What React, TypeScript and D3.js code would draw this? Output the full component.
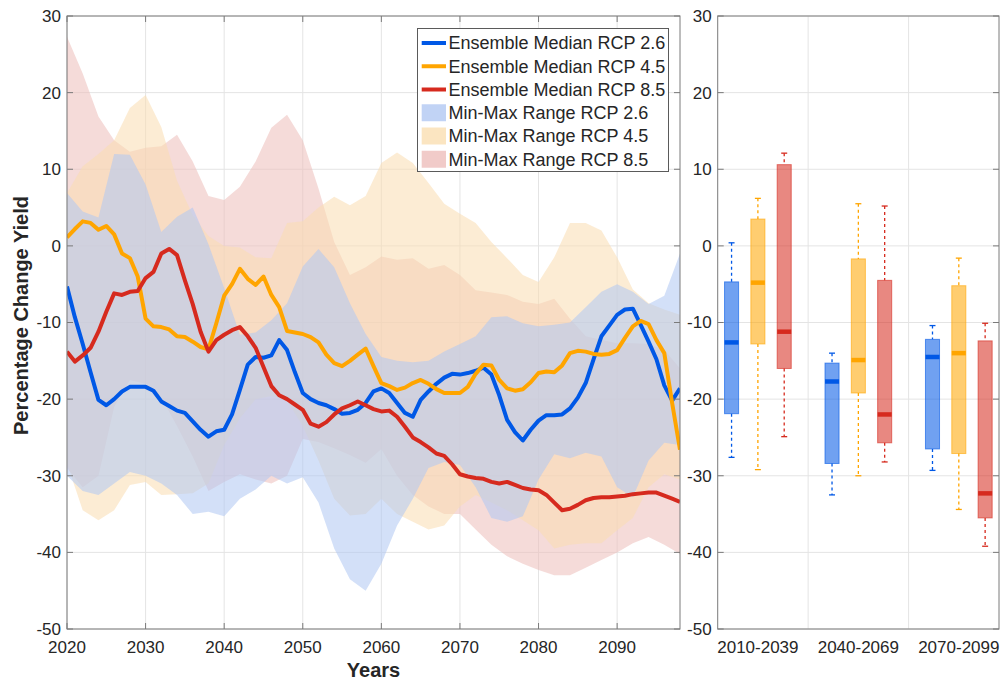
import React from "react";
import * as d3 from "d3";

// ---------- DATA ----------
const years = d3.range(2020, 2099); // 2020..2098
const envYears = d3.range(2020, 2099, 2); // 2020..2098 step 2

const medianRcp26 = [
  -5.3, -9.3, -12.8, -16.5, -20.1, -20.8, -20.0, -19.0, -18.4, -18.4,
  -18.4, -18.9, -20.3, -20.9, -21.5, -21.8, -22.9, -24.0, -24.9, -24.2,
  -24.0, -22.0, -18.8, -15.5, -14.5, -14.6, -14.3, -12.3, -13.6, -16.5,
  -19.2, -20.0, -20.5, -20.8, -21.3, -21.9, -21.8, -21.4, -20.5, -19.0,
  -18.6, -19.2, -20.5, -21.8, -22.3, -20.1, -19.0, -18.0, -17.2, -16.7,
  -16.8, -16.6, -16.3, -15.9, -16.8, -19.5, -22.7, -24.3, -25.4, -24.0,
  -22.8, -22.1, -22.1, -22.0, -21.2, -19.8, -17.9, -14.8, -11.8, -10.4,
  -9.0, -8.3, -8.2, -10.3, -12.5, -14.8, -18.2, -20.2, -18.6,
];
const medianRcp45 = [
  1.1, 2.2, 3.2, 3.0, 2.1, 2.6, 1.5, -1.0, -1.6, -4.0,
  -9.5, -10.5, -10.6, -10.9, -11.8, -11.9, -12.5, -13.2, -13.5, -10.1,
  -6.5, -5.0, -3.0, -4.3, -5.1, -4.0, -6.4, -8.0, -11.1, -11.3,
  -11.5, -11.9, -12.6, -14.2, -15.3, -15.7, -15.0, -14.2, -13.4, -15.7,
  -17.9, -18.3, -18.8, -18.5, -17.9, -17.5, -18.0, -18.7, -19.2, -19.2,
  -19.2, -18.4, -16.7, -15.5, -15.6, -17.5, -18.6, -18.9, -18.7, -17.8,
  -16.6, -16.4, -16.5, -15.6, -14.0, -13.7, -13.8, -14.1, -14.2, -14.1,
  -13.6, -12.0, -10.5, -9.8, -10.2, -12.3, -14.0, -20.5, -26.6,
];
const medianRcp85 = [
  -13.8, -15.1, -14.3, -13.3, -11.2, -8.6, -6.2, -6.4, -6.0, -5.9,
  -4.2, -3.4, -1.0, -0.4, -1.2, -4.5, -7.6, -11.2, -13.8, -12.3,
  -11.6, -11.0, -10.6, -11.8, -13.3, -15.8, -18.3, -19.5, -20.0, -20.7,
  -21.4, -23.2, -23.6, -23.0, -22.0, -21.2, -20.8, -20.3, -20.8, -21.3,
  -21.6, -21.5, -22.3, -23.6, -25.0, -25.6, -26.3, -27.1, -27.4, -28.5,
  -29.8, -30.1, -30.3, -30.4, -30.8, -31.0, -30.8, -31.2, -31.6, -31.8,
  -31.9, -32.5, -33.5, -34.5, -34.3, -33.8, -33.2, -32.9, -32.8, -32.8,
  -32.7, -32.6, -32.4, -32.3, -32.2, -32.2, -32.6, -33.0, -33.4,
];

const maxRcp26 = [
  6.9, 4.5, 3.7, 12.0, 11.9, 8.0, 1.8, 3.8, 5.0, 0.2,
  -5.5, -11.6, -11.3, -9.7, -7.5, -2.7, -0.4, -2.8, -7.5, -11.5,
  -14.5, -15.0, -15.2, -15.0, -13.8, -12.8, -11.8, -9.3, -9.2, -10.1,
  -10.5, -10.3, -10.0, -8.0, -6.0, -5.0, -6.0, -7.6, -6.5, -1.0,
];
const minRcp26 = [
  -30.0, -32.0, -32.5, -31.0, -29.5, -30.0, -31.0, -32.5, -35.0, -34.7,
  -35.3, -33.0, -31.8, -30.0, -31.0, -30.2, -33.5, -39.5, -43.5, -45.0,
  -41.5, -36.5, -33.0, -29.0, -28.2, -28.6, -31.5, -35.5, -36.0, -35.3,
  -30.5, -27.2, -27.7, -27.0, -27.5, -31.5, -32.8, -28.0, -25.7, -26.0,
];
const maxRcp45 = [
  6.9, 10.4, 12.0, 13.8, 18.0, 19.7, 15.5, 8.5, 4.0, 1.3,
  0.0, -0.2, -1.5, -1.6, 3.0, 3.2, 5.0, 6.4, 5.3, 6.5,
  10.8, 12.2, 10.8, 8.2, 5.5, 4.2, 3.0, 0.5, -1.6, -3.8,
  -4.7, -1.5, 3.0, 3.0, 2.0, -1.5, -5.7, -7.5, -8.3, -9.0,
];
const minRcp45 = [
  -28.4, -34.5, -35.8, -34.5, -31.2, -30.8, -32.5, -32.4, -32.3, -31.0,
  -26.0, -22.5, -20.0, -19.6, -20.2, -23.5, -28.0, -33.0, -35.2, -35.0,
  -33.0, -35.0, -36.0, -37.0, -36.5, -34.0, -32.5, -33.5, -34.5, -35.8,
  -37.1, -39.5, -39.0, -38.8, -38.8, -37.1, -35.5, -31.5, -29.8, -30.5,
];
const maxRcp85 = [
  27.3, 22.5, 16.9, 13.8, 12.3, 12.8, 13.0, 14.5, 11.0, 6.5,
  6.0, 7.7, 11.0, 15.4, 17.1, 13.8, 7.5, 0.5, -3.8, -2.8,
  -1.4, -1.8, -1.6, -3.0, -2.5, -3.8, -5.8, -6.1, -6.4, -7.3,
  -7.6, -6.9, -9.5, -11.8, -12.3, -12.7, -12.7, -12.8, -13.6, -16.0,
];
const minRcp85 = [
  -29.0, -31.5, -30.0, -21.0, -17.5, -18.0, -19.8, -23.5, -27.5, -32.0,
  -30.8, -29.8, -30.5, -31.0, -30.0, -25.2, -25.6, -26.4, -27.3, -28.3,
  -26.5, -30.0, -32.5, -34.0, -35.0, -35.0, -37.0, -39.0, -40.5, -41.5,
  -42.3, -43.0, -43.0, -42.0, -41.0, -40.0, -38.8, -38.0, -39.0, -40.2,
];

// Box plot data (per period)
const periods = ["2010-2039", "2040-2069", "2070-2099"];
const boxLow26 = [-27.6, -32.5, -29.3];
const boxQ1_26 = [-21.9, -28.4, -26.5];
const boxMed26 = [-12.6, -17.7, -14.5];
const boxQ3_26 = [-4.7, -15.3, -12.2];
const boxHigh26 = [0.4, -14.0, -10.4];

const boxLow45 = [-29.2, -30.0, -34.4];
const boxQ1_45 = [-12.8, -19.2, -27.1];
const boxMed45 = [-4.8, -14.9, -14.0];
const boxQ3_45 = [3.5, -1.7, -5.2];
const boxHigh45 = [6.2, 5.5, -1.6];

const boxLow85 = [-24.9, -28.2, -39.2];
const boxQ1_85 = [-16.0, -25.7, -35.5];
const boxMed85 = [-11.2, -22.0, -32.3];
const boxQ3_85 = [10.6, -4.5, -12.4];
const boxHigh85 = [12.1, 5.2, -10.1];

const yTicks = [-50, -40, -30, -20, -10, 0, 10, 20, 30];
const xTicks = [2020, 2030, 2040, 2050, 2060, 2070, 2080, 2090];

const legendLabels = [
  "Ensemble Median RCP 2.6",
  "Ensemble Median RCP 4.5",
  "Ensemble Median RCP 8.5",
  "Min-Max Range RCP 2.6",
  "Min-Max Range RCP 4.5",
  "Min-Max Range RCP 8.5",
];

// ---------- STYLE ----------
const lineBlue = "rgb(0,88,230)";
const lineOrange = "rgb(255,165,0)";
const lineRed = "rgb(214,42,30)";
const fillBlue = "rgb(177,200,243)";
const fillOrange = "rgb(250,222,178)";
const fillRed = "rgb(238,190,187)";
const fillOpacity = 0.56;
const axisColor = "#7a7a7a";
const textColor = "#262626";
const gridColor = "#e4e4e4";
const font = "'Liberation Sans', Arial, Helvetica, sans-serif";

export default function App() {
  const W = 1003;
  const H = 682;
  const left = { x0: 67, x1: 680, y0: 16, y1: 629 };
  const right = { x0: 717.7, x1: 999 };

  const xL = d3.scaleLinear().domain([2020, 2098]).range([left.x0, left.x1]);
  const y = d3.scaleLinear().domain([-50, 30]).range([left.y1, left.y0]);
  const xR = d3.scaleLinear().domain([0.6, 3.4]).range([right.x0, right.x1]);

  type EP = { yr: number; lo: number; hi: number };
  const env = (lo: number[], hi: number[]): EP[] =>
    envYears.map((yr, i) => ({ yr, lo: lo[i], hi: hi[i] }));
  const area = d3
    .area<EP>()
    .x((d) => xL(d.yr))
    .y0((d) => y(d.lo))
    .y1((d) => y(d.hi));

  const line = d3
    .line<number>()
    .x((_, i) => xL(years[i]))
    .y((d) => y(d));

  const envs = [
    { lo: minRcp85, hi: maxRcp85, fill: fillRed },
    { lo: minRcp45, hi: maxRcp45, fill: fillOrange },
    { lo: minRcp26, hi: maxRcp26, fill: fillBlue },
  ];
  const medians = [
    { v: medianRcp26, c: lineBlue },
    { v: medianRcp45, c: lineOrange },
    { v: medianRcp85, c: lineRed },
  ];

  const boxSeries = [
    { low: boxLow26, q1: boxQ1_26, med: boxMed26, q3: boxQ3_26, high: boxHigh26, c: lineBlue, off: -0.262 },
    { low: boxLow45, q1: boxQ1_45, med: boxMed45, q3: boxQ3_45, high: boxHigh45, c: lineOrange, off: 0 },
    { low: boxLow85, q1: boxQ1_85, med: boxMed85, q3: boxQ3_85, high: boxHigh85, c: lineRed, off: 0.262 },
  ];
  const boxW = 0.14;
  const capHalf = 3;
  const tickLen = 6;

  const legendX = 417.5;
  const legendY = 28.5;
  const legendW = 251;
  const legendH = 143;
  const rowY = (i: number) => legendY + 14.5 + i * 23.25;

  const axesFrame = (x0: number, x1: number) => (
    <rect x={x0} y={left.y0} width={x1 - x0} height={left.y1 - left.y0} fill="none" stroke={axisColor} strokeWidth={1} />
  );

  return (
    <svg width={W} height={H} style={{ position: "absolute", left: 0, top: 0, background: "#fff" }} fontFamily={font}>
      <defs>
        <clipPath id="clipL">
          <rect x={left.x0} y={left.y0} width={left.x1 - left.x0} height={left.y1 - left.y0} />
        </clipPath>
      </defs>
      <rect x={0} y={0} width={W} height={H} fill="#fff" />

      {/* ---------- LEFT PANEL ---------- */}
      {yTicks.map((t) => (
        <line key={"gy" + t} x1={left.x0} x2={left.x1} y1={y(t)} y2={y(t)} stroke={gridColor} strokeWidth={1} />
      ))}
      {xTicks.map((t) => (
        <line key={"gx" + t} x1={xL(t)} x2={xL(t)} y1={left.y0} y2={left.y1} stroke={gridColor} strokeWidth={1} />
      ))}
      <g clipPath="url(#clipL)">
        {envs.map((e, i) => (
          <path key={"env" + i} d={area(env(e.lo, e.hi)) || ""} fill={e.fill} fillOpacity={fillOpacity} stroke="none" />
        ))}
        {medians.map((m, i) => (
          <path key={"med" + i} d={line(m.v) || ""} fill="none" stroke={m.c} strokeWidth={4} strokeLinejoin="round" />
        ))}
      </g>
      {axesFrame(left.x0, left.x1)}
      {yTicks.map((t) => (
        <g key={"ty" + t} stroke={axisColor}>
          <line x1={left.x0} x2={left.x0 + tickLen} y1={y(t)} y2={y(t)} />
          <line x1={left.x1} x2={left.x1 - tickLen} y1={y(t)} y2={y(t)} />
        </g>
      ))}
      {xTicks.map((t) => (
        <g key={"tx" + t} stroke={axisColor}>
          <line x1={xL(t)} x2={xL(t)} y1={left.y1} y2={left.y1 - tickLen} />
          <line x1={xL(t)} x2={xL(t)} y1={left.y0} y2={left.y0 + tickLen} />
        </g>
      ))}
      {yTicks.map((t) => (
        <text key={"ly" + t} x={left.x0 - 6} y={y(t)} dy="0.35em" textAnchor="end" fontSize={17} fill={textColor}>
          {t}
        </text>
      ))}
      {xTicks.map((t) => (
        <text key={"lx" + t} x={xL(t)} y={653} textAnchor="middle" fontSize={17} fill={textColor}>
          {t}
        </text>
      ))}
      <text x={(left.x0 + left.x1) / 2} y={677} textAnchor="middle" fontSize={20} fontWeight="bold" fill={textColor}>
        Years
      </text>
      <text
        transform={`translate(28, ${(left.y0 + left.y1) / 2 - 7}) rotate(-90)`}
        textAnchor="middle"
        fontSize={20}
        fontWeight="bold"
        fill={textColor}
      >
        Percentage Change Yield
      </text>

      {/* legend */}
      <rect x={legendX} y={legendY} width={legendW} height={legendH} fill="#fff" stroke="#5a5a5a" strokeWidth={1} />
      {legendLabels.map((lab, i) => {
        const ry = rowY(i);
        const sample =
          i < 3 ? (
            <line x1={421.7} x2={446} y1={ry} y2={ry} stroke={medians[i].c} strokeWidth={4} />
          ) : (
            <rect x={421.7} y={ry - 8.5} width={24.3} height={17} fill={envs[2 - (i - 3)].fill} fillOpacity={0.8} />
          );
        return (
          <g key={"leg" + i}>
            {sample}
            <text x={448.5} y={ry} dy="0.35em" fontSize={18} fill={textColor}>
              {lab}
            </text>
          </g>
        );
      })}

      {/* ---------- RIGHT PANEL ---------- */}
      {yTicks.map((t) => (
        <line key={"rgy" + t} x1={right.x0} x2={right.x1} y1={y(t)} y2={y(t)} stroke={gridColor} strokeWidth={1} />
      ))}
      {[1.5, 2.5].map((t) => (
        <line key={"rgx" + t} x1={xR(t)} x2={xR(t)} y1={left.y0} y2={left.y1} stroke={gridColor} strokeWidth={1} />
      ))}
      {periods.map((p, gi) =>
        boxSeries.map((s, si) => {
          const cx = xR(gi + 1 + s.off);
          const hw = (xR(boxW) - xR(0)) / 2;
          const hi = s.high[gi];
          const lo = s.low[gi];
          const q1 = s.q1[gi];
          const q3 = s.q3[gi];
          const md = s.med[gi];
          return (
            <g key={"box" + gi + "-" + si}>
              <line x1={cx} x2={cx} y1={y(hi)} y2={y(q3)} stroke={s.c} strokeWidth={1.3} strokeDasharray="3,3" />
              <line x1={cx} x2={cx} y1={y(q1)} y2={y(lo)} stroke={s.c} strokeWidth={1.3} strokeDasharray="3,3" />
              <line x1={cx - capHalf} x2={cx + capHalf} y1={y(hi)} y2={y(hi)} stroke={s.c} strokeWidth={1.3} />
              <line x1={cx - capHalf} x2={cx + capHalf} y1={y(lo)} y2={y(lo)} stroke={s.c} strokeWidth={1.3} />
              <rect
                x={cx - hw}
                y={y(q3)}
                width={hw * 2}
                height={y(q1) - y(q3)}
                fill={s.c}
                fillOpacity={0.56}
                stroke={s.c}
                strokeOpacity={0.6}
                strokeWidth={1}
              />
              <line x1={cx - hw} x2={cx + hw} y1={y(md)} y2={y(md)} stroke={s.c} strokeWidth={4.5} />
            </g>
          );
        })
      )}
      {axesFrame(right.x0, right.x1)}
      {yTicks.map((t) => (
        <g key={"rty" + t} stroke={axisColor}>
          <line x1={right.x0} x2={right.x0 + tickLen} y1={y(t)} y2={y(t)} />
          <line x1={right.x1} x2={right.x1 - tickLen} y1={y(t)} y2={y(t)} />
        </g>
      ))}
      {yTicks.map((t) => (
        <text key={"rly" + t} x={right.x0 - 6} y={y(t)} dy="0.35em" textAnchor="end" fontSize={17} fill={textColor}>
          {t}
        </text>
      ))}
      {periods.map((p, gi) => (
        <text key={"rlx" + p} x={xR(gi + 1)} y={653} textAnchor="middle" fontSize={17} fill={textColor}>
          {p}
        </text>
      ))}
    </svg>
  );
}
